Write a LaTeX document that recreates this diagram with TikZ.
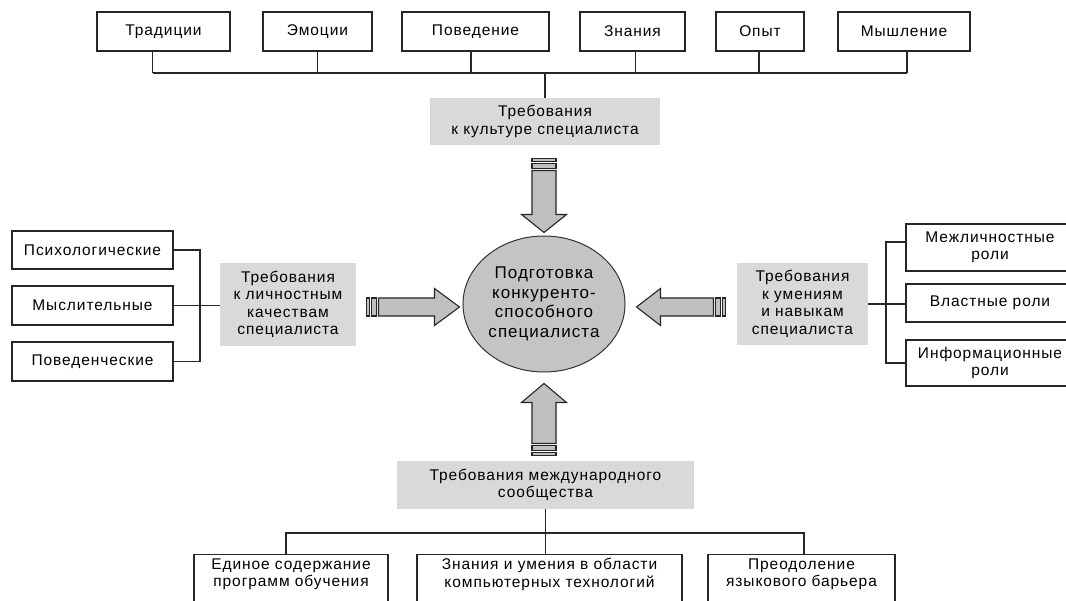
\documentclass[tikz,border=0pt]{standalone}
\usepackage{fontspec}
\setmainfont{Liberation Sans}[LetterSpace=6]
\usetikzlibrary{shapes.geometric,calc}
\definecolor{gbfill}{HTML}{D9D9D9}
\definecolor{arfill}{HTML}{C0C0C0}
\definecolor{elfill}{HTML}{C4C4C4}
\newcommand\dfont{\fontsize{15.5}{17.5}\selectfont}
\newcommand\efont{\fontsize{17}{19.5}\selectfont}
\tikzset{
  wbox/.style={draw=black!85, line width=1.1pt, fill=white, inner sep=0pt, align=center, font=\dfont},
  gbox/.style={fill=gbfill, inner sep=0pt, align=center, font=\dfont},
  conn/.style={draw=black!85, line width=1.1pt},
  arrowstyle/.style={draw=black!85, line width=1.1pt, fill=arfill, line join=miter},
  pics/barrow/.style n args={4}{code={
    \path[arrowstyle] (0,0) -- (-#1,#2) -- (-#1,#3) -- (-#4,#3) -- (-#4,-#3) -- (-#1,-#3) -- (-#1,-#2) -- cycle;
    \path[arrowstyle] (-#4-2,#3) rectangle (-#4-7,-#3);
    \path[arrowstyle] (-#4-9,#3) rectangle (-#4-12,-#3);
  }}
}
\begin{document}
\begin{tikzpicture}[x=1pt,y=-1pt]
\useasboundingbox (0,0) rectangle (1066,601);
\fill[white] (0,0) rectangle (1066,601);
\clip (0,0) rectangle (1066,601);

% top row
\node[wbox, minimum width=133, minimum height=39] (trad) at (163.5,31.5) {Традиции};
\node[wbox, minimum width=109, minimum height=39] (emo)  at (317.5,31.5) {Эмоции};
\node[wbox, minimum width=147, minimum height=39] (pov)  at (475.5,31.5) {Поведение};
\node[wbox, minimum width=105, minimum height=39] (zn)   at (632.5,31.5) {Знания};
\node[wbox, minimum width=88,  minimum height=39] (op)   at (760,31.5)   {Опыт};
\node[wbox, minimum width=132, minimum height=39] (mysh) at (904,31.5)   {Мышление};
\node[gbox, minimum width=230, minimum height=47] (tgray) at (545,121.5) {Требования\\к культуре специалиста};

\coordinate (bus) at (545,73);
\foreach \n/\dx in {trad/-11, emo/0, pov/-4.5, zn/3, op/-1, mysh/3}{
  \draw[conn] ([xshift=\dx pt]\n.south) -- ([xshift=\dx pt]\n.south |- bus);
}
\draw[conn] ([xshift=-11pt]trad.south |- bus) -- ([xshift=3pt]mysh.south |- bus);
\draw[conn] (bus) -- (tgray.north);

% centre
\node[ellipse, draw=black!80, line width=1pt, fill=elfill, minimum width=162, minimum height=136, inner sep=0pt, align=center, font=\efont] (c) at (544,304)
  {Подготовка\\конкуренто-\\способного\\специалиста};

% left side
\node[wbox, minimum width=161, minimum height=38] (psy)  at (92.5,250)   {Психологические};
\node[wbox, minimum width=161, minimum height=39] (mysl) at (92.5,305.5) {Мыслительные};
\node[wbox, minimum width=161, minimum height=39] (povd) at (92.5,361.5) {Поведенческие};
\node[gbox, minimum width=136, minimum height=83] (lgray) at (288,304.5) {Требования\\к личностным\\качествам\\специалиста};
\coordinate (lv) at (200,304);
\draw[conn] (psy.east) -- (psy.east -| lv) -- (povd.east -| lv) -- (povd.east);
\draw[conn] (mysl.east) -- (lgray.west |- mysl.east);

% right side
\node[wbox, minimum width=168, minimum height=47] (mezh)  at (990,247.5) {Межличностные\\роли};
\node[wbox, minimum width=168, minimum height=38] (vlast) at (990,303)   {Властные роли};
\node[wbox, minimum width=168, minimum height=46] (inf)   at (990,363)   {Информационные\\роли};
\node[gbox, minimum width=131, minimum height=82] (rgray) at (802.5,304) {Требования\\к умениям\\и навыкам\\специалиста};
\coordinate (rv) at (886,304);
\draw[conn] ([yshift=5.5pt]mezh.west) -- ([yshift=5.5pt]mezh.west -| rv) -- (inf.west -| rv) -- (inf.west);
\draw[conn] (rgray.east) -- (vlast.west |- rgray.east);

% bottom
\node[gbox, minimum width=297, minimum height=48] (bgray) at (545.5,485) {Требования международного\\сообщества};
\node[wbox, anchor=north, inner ysep=4pt, minimum width=194] (edin) at (291,554) {Единое содержание\\программ обучения\\\rule{0pt}{40pt}};
\node[wbox, anchor=north, inner ysep=4pt, minimum width=265] (zn2)  at (549.5,554) {Знания и умения в области\\компьютерных технологий\\\rule{0pt}{40pt}};
\node[wbox, anchor=north, inner ysep=4pt, minimum width=187] (pre)  at (801.5,554) {Преодоление\\языкового барьера\\\rule{0pt}{40pt}};
\coordinate (bbus) at (545,533);
\draw[conn] (bgray.south) -- (bgray.south |- zn2.north);
\draw[conn] ([xshift=-5pt]edin.north) -- ([xshift=-5pt]edin.north |- bbus) -- ([xshift=2.5pt]pre.north |- bbus) -- ([xshift=2.5pt]pre.north);

% block arrows
\pic at ([xshift=-3pt,yshift=-3pt]c.west) {barrow={25}{18.5}{9}{81}};
\pic[rotate=180] at ([xshift=11pt,yshift=-3pt]c.east) {barrow={24}{18.5}{9}{77}};
\pic[rotate=-90] at ([yshift=3pt]c.north) {barrow={18}{22.5}{12}{62}};
\pic[rotate=90] at ([yshift=-11pt]c.south) {barrow={19}{22.5}{12}{60}};
\end{tikzpicture}
\end{document}
